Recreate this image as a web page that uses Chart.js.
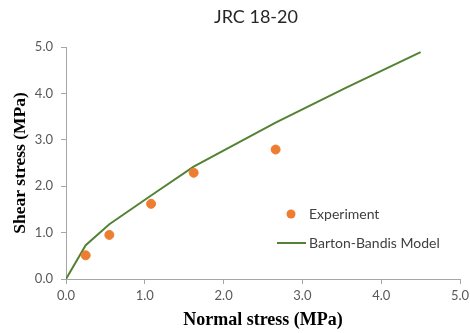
<!DOCTYPE html>
<html>
<head>
<meta charset="utf-8">
<script src="https://cdn.jsdelivr.net/npm/chart.js@4"></script>
<style>
  html, body { margin: 0; padding: 0; background: #fff; }
  #wrap { width: 470px; height: 333px; position: relative; }
</style>
</head>
<body>
<div id="wrap"><canvas id="jrcChart" width="470" height="333"></canvas></div>
<script>
// data
const expX = [0.25, 0.55, 1.08, 1.62, 2.66];
const expY = [0.51, 0.95, 1.62, 2.29, 2.79];
const modelX = [0, 0.25, 0.55, 1.08, 1.62, 2.66, 3.55, 4.5];
const modelY = [0, 0.73, 1.18, 1.80, 2.42, 3.37, 4.12, 4.89];
const xTicks = [0, 1, 2, 3, 4, 5];
const yTicks = [0, 1, 2, 3, 4, 5];

const chartTitle = "JRC 18-20";
const xTitle = "Normal stress (MPa)";
const yTitle = "Shear stress (MPa)";
const seriesNames = ["Experiment", "Barton-Bandis Model"];

const orange = "#ED7D31";
const green = "#548235";
const axisGray = "#a6a6a6";

// title, axis titles and legend drawn in place
const extras = {
  id: "extras",
  afterDraw(chart) {
    const c = chart.ctx;
    c.save();
    c.fillStyle = "#262626";
    c.font = "18px Lato, 'Open Sans', sans-serif";
    c.textAlign = "center";
    c.textBaseline = "middle";
    c.fillText(chartTitle, 256, 17);

    c.fillStyle = "#000";
    c.font = "bold 18px 'Liberation Serif', serif";
    c.fillText(xTitle, 263, 320);
    c.translate(20, 163);
    c.rotate(-Math.PI / 2);
    c.font = "bold 17.5px 'Liberation Serif', serif";
    c.fillText(yTitle, 0, 0);
    c.restore();

    // legend inside the plot
    c.save();
    c.font = "14px Lato, 'Open Sans', sans-serif";
    c.textAlign = "left";
    c.textBaseline = "middle";
    c.beginPath();
    c.arc(291, 214, 4.5, 0, Math.PI * 2);
    c.fillStyle = orange;
    c.fill();
    c.fillStyle = "#404040";
    c.fillText(seriesNames[0], 309, 214);
    c.strokeStyle = green;
    c.lineWidth = 2;
    c.beginPath();
    c.moveTo(277, 243);
    c.lineTo(306, 243);
    c.stroke();
    c.fillText(seriesNames[1], 309, 243);
    c.restore();
  }
};

const ctx = document.getElementById("jrcChart").getContext("2d");
new Chart(ctx, {
  type: "scatter",
  data: {
    datasets: [
      {
        label: seriesNames[0],
        data: expX.map((x, i) => ({ x: x, y: expY[i] })),
        backgroundColor: orange,
        borderColor: orange,
        pointRadius: 4.5,
        showLine: false,
      },
      {
        label: seriesNames[1],
        data: modelX.map((x, i) => ({ x: x, y: modelY[i] })),
        borderColor: green,
        borderWidth: 2,
        pointRadius: 0,
        showLine: true,
        tension: 0,
      },
    ],
  },
  plugins: [extras],
  options: {
    responsive: false,
    animation: false,
    devicePixelRatio: 1,
    layout: { padding: { top: 47, right: 10, left: 0, bottom: 0 } },
    plugins: {
      legend: { display: false },
      title: { display: false },
      tooltip: { enabled: false },
    },
    scales: {
      x: {
        type: "linear",
        min: 0,
        max: 5,
        afterBuildTicks: (s) => { s.ticks = xTicks.map((v) => ({ value: v })); },
        afterFit: (s) => { s.height = 54; s.paddingRight = 0; s.paddingLeft = 0; },
        ticks: {
          callback: (v) => v.toFixed(1),
          color: "#595959",
          font: { family: "Lato, 'Open Sans', sans-serif", size: 13 },
          padding: 4,
          maxRotation: 0,
        },
        grid: { drawOnChartArea: false, drawTicks: true, tickLength: 5, color: axisGray },
        border: { color: axisGray, width: 1 },
      },
      y: {
        type: "linear",
        min: 0,
        max: 5,
        afterBuildTicks: (s) => { s.ticks = yTicks.map((v) => ({ value: v })); },
        afterFit: (s) => { s.width = 66; s.paddingTop = 0; s.paddingBottom = 0; },
        ticks: {
          callback: (v) => v.toFixed(1),
          color: "#595959",
          font: { family: "Lato, 'Open Sans', sans-serif", size: 13 },
          padding: 8,
        },
        grid: { drawOnChartArea: false, drawTicks: true, tickLength: 5, color: axisGray },
        border: { color: axisGray, width: 1 },
      },
    },
  },
});
</script>
</body>
</html>
